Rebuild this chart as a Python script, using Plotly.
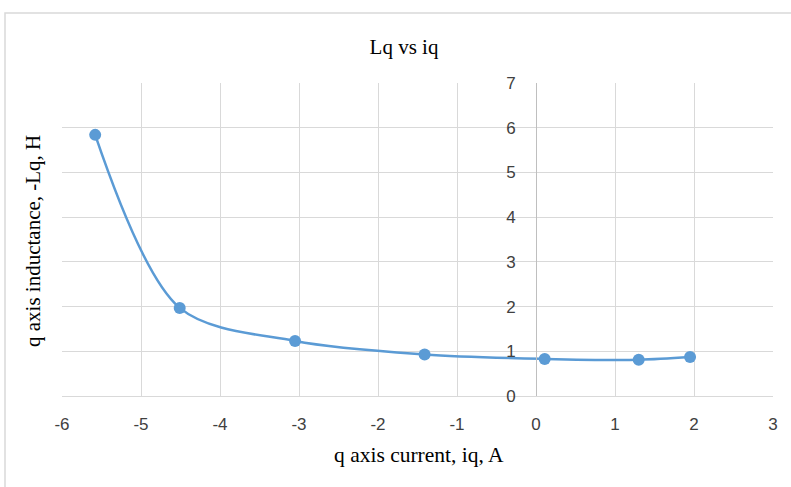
import plotly.graph_objects as go

# Data
iq = [-5.58, -4.51, -3.05, -1.41, 0.11, 1.30, 1.95]
lq = [5.84, 1.97, 1.23, 0.93, 0.83, 0.81, 0.87]

x_ticks = [-6, -5, -4, -3, -2, -1, 0, 1, 2, 3]
y_ticks = [0, 1, 2, 3, 4, 5, 6, 7]

W, H = 791, 487
L, R, T, B = 62, 773, 83, 396  # plot area in px

def px_to_paper(px, py):
    return (px - L) / (R - L), (B - py) / (B - T)

fig = go.Figure()
fig.add_trace(go.Scatter(
    x=iq, y=lq, mode="lines+markers",
    line=dict(color="#5B9BD5", width=2.5, shape="spline", smoothing=0.9),
    marker=dict(color="#5B9BD5", size=12),
    showlegend=False,
))

serif = "Liberation Serif, Times New Roman, serif"
sans = "Liberation Sans Narrow, Arial Narrow, Liberation Sans, sans-serif"

xpos0 = (0 - (-6)) / (3 - (-6))

fig.update_layout(
    width=W, height=H,
    margin=dict(l=L, r=W - R, t=T, b=H - B),
    paper_bgcolor="white", plot_bgcolor="white",
    xaxis=dict(
        range=[-6, 3], tickvals=x_ticks, ticktext=[str(v) for v in x_ticks],
        showgrid=True, gridcolor="#d9d9d9", gridwidth=1,
        zeroline=False, showline=True, linecolor="#d9d9d9", linewidth=1,
        ticks="outside", ticklen=13, tickcolor="rgba(0,0,0,0)",
        tickfont=dict(family=sans, size=17, color="#404040"),
        domain=[0, 1], fixedrange=True,
    ),
    yaxis=dict(
        range=[0, 7], tickvals=y_ticks, ticktext=[str(v) for v in y_ticks],
        showgrid=True, gridcolor="#d9d9d9", gridwidth=1,
        zeroline=False, showline=True, linecolor="#bfbfbf", linewidth=1,
        anchor="free", position=xpos0,
        ticks="outside", ticklen=17, tickcolor="rgba(0,0,0,0)",
        tickfont=dict(family=sans, size=17, color="#404040"),
        fixedrange=True,
    ),
    title=dict(
        text="Lq vs iq", font=dict(family=serif, size=21, color="#000000"),
        x=px_to_paper(404, 0)[0], xref="paper", xanchor="center",
        y=1 - 47 / H, yref="container", yanchor="middle",
    ),
)

ax, ay = px_to_paper(419, 455)
fig.add_annotation(
    text="q axis current, iq, A", x=ax, y=ay, xref="paper", yref="paper",
    showarrow=False, xanchor="center", yanchor="middle",
    font=dict(family=serif, size=21.5, color="#000000"),
)
tx, ty = px_to_paper(33, 241)
fig.add_annotation(
    text="q axis inductance, -Lq, H", x=tx, y=ty, xref="paper", yref="paper",
    showarrow=False, xanchor="center", yanchor="middle", textangle=-90,
    font=dict(family=serif, size=21, color="#000000"),
)

# chart area frame (cut off at right and bottom in the reference)
x0, y0 = px_to_paper(5, 13)
x1, y1 = px_to_paper(820, 520)
fig.add_shape(type="rect", xref="paper", yref="paper",
              x0=x0, y0=y1, x1=x1, y1=y0,
              line=dict(color="#d9d9d9", width=1.5), fillcolor="rgba(0,0,0,0)", layer="below")

fig.write_html("out.html")
